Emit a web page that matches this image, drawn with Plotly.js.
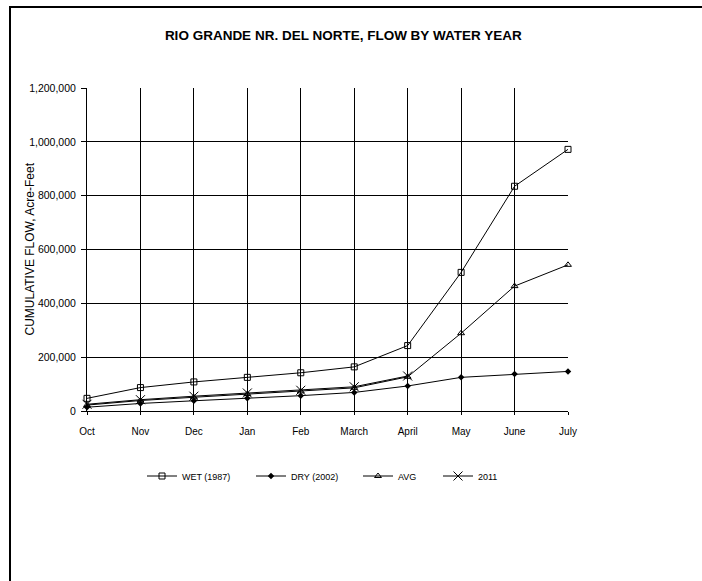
<!DOCTYPE html>
<html>
<head>
<meta charset="utf-8">
<script src="https://cdn.plot.ly/plotly-3.0.1.min.js"></script>
<style>
  html, body { margin: 0; padding: 0; background: #fff; }
  #chart { width: 702px; height: 581px; }
</style>
</head>
<body>
<div id="chart"></div>
<script>
// Data (cumulative flow, acre-feet)
const months = ['Oct', 'Nov', 'Dec', 'Jan', 'Feb', 'March', 'April', 'May', 'June', 'July'];
const wet1987 = [47000, 87000, 108000, 125000, 142000, 164000, 243000, 515000, 835000, 972000];
const dry2002 = [14000, 28000, 38000, 47000, 57000, 69000, 93000, 125000, 137000, 147000];
const avgFlow = [22000, 39000, 51000, 63000, 73000, 86000, 127000, 289000, 464000, 543000];
const wy2011 = [25000, 42000, 55000, 67000, 77000, 90000, 130000];
const yTicks = [0, 200000, 400000, 600000, 800000, 1000000, 1200000];

const seriesNames = ['WET (1987)', 'DRY (2002)', 'AVG', '2011'];
const yTitle = 'CUMULATIVE FLOW, Acre-Feet';

const lineStyle = { color: '#000', width: 1 };
const traces = [
  { x: months, y: wet1987, name: seriesNames[0], mode: 'lines+markers', line: lineStyle,
    marker: { symbol: 'square-open', size: 6, color: '#000', line: { width: 1 } }, cliponaxis: false, legendwidth: 64 },
  { x: months, y: dry2002, name: seriesNames[1], mode: 'lines+markers', line: lineStyle,
    marker: { symbol: 'diamond', size: 5, color: '#000' }, cliponaxis: false, legendwidth: 62 },
  { x: months, y: avgFlow, name: seriesNames[2], mode: 'lines+markers', line: lineStyle,
    marker: { symbol: 'triangle-up-open', size: 6, color: '#000', line: { width: 1 } }, cliponaxis: false, legendwidth: 35 },
  { x: months.slice(0, wy2011.length), y: wy2011, name: seriesNames[3], mode: 'lines+markers', line: lineStyle,
    marker: { symbol: 'x-thin-open', size: 9, color: '#000', line: { width: 1, color: '#000' } }, cliponaxis: false }
];

const L = 87, R = 134, T = 88, B = 170, W = 702, H = 581;
const pw = W - L - R, ph = H - T - B;
const px = v => (v - L) / pw;
const py = v => (H - B - v) / ph;

const layout = {
  width: W, height: H,
  margin: { l: L, r: R, t: T, b: B, pad: 0 },
  paper_bgcolor: '#fff', plot_bgcolor: '#fff',
  font: { family: 'Liberation Sans, Arial, sans-serif', color: '#000', size: 10 },
  title: {
    text: '<b>RIO GRANDE NR. DEL NORTE, FLOW BY WATER YEAR</b>',
    font: { family: 'Liberation Sans, Arial, sans-serif', size: 13.5, color: '#000' },
    x: 0.489, xref: 'container', xanchor: 'center',
    y: 1 - 35 / H, yref: 'container', yanchor: 'middle'
  },
  xaxis: {
    type: 'category', range: [0, months.length - 1],
    showgrid: true, gridcolor: '#000', gridwidth: 1,
    showline: true, linecolor: '#000', linewidth: 1,
    ticks: 'outside', ticklen: 3, tickcolor: '#000', ticklabelstandoff: 8,
    tickfont: { size: 10 }, zeroline: false, fixedrange: true
  },
  yaxis: {
    range: [0, 1200000], tickvals: yTicks, tickformat: ',d',
    showgrid: true, gridcolor: '#000', gridwidth: 1,
    showline: true, linecolor: '#000', linewidth: 1,
    ticks: 'outside', ticklen: 5, tickcolor: '#000', ticklabelstandoff: 3,
    tickfont: { size: 10.5 }, zeroline: false,
    fixedrange: true
  },
  annotations: [
    { text: yTitle, xref: 'paper', yref: 'paper', x: px(29), y: 0.5, xanchor: 'center', yanchor: 'middle',
      textangle: -90, showarrow: false, font: { size: 12, color: '#000' } }
  ],
  showlegend: true,
  legend: {
    orientation: 'h', x: px(142), xanchor: 'left', y: py(476), yanchor: 'middle',
    font: { size: 9 }, itemwidth: 30, bgcolor: 'rgba(0,0,0,0)', traceorder: 'normal'
  },
  shapes: [
    { type: 'line', xref: 'paper', yref: 'paper', x0: px(10), x1: px(10), y0: py(7), y1: py(H + 2), line: { color: '#000', width: 2 } },
    { type: 'line', xref: 'paper', yref: 'paper', x0: px(9), x1: px(W + 2), y0: py(7), y1: py(7), line: { color: '#000', width: 2 } }
  ]
};

Plotly.newPlot('chart', traces, layout, { displayModeBar: false, staticPlot: true });
</script>
</body>
</html>
